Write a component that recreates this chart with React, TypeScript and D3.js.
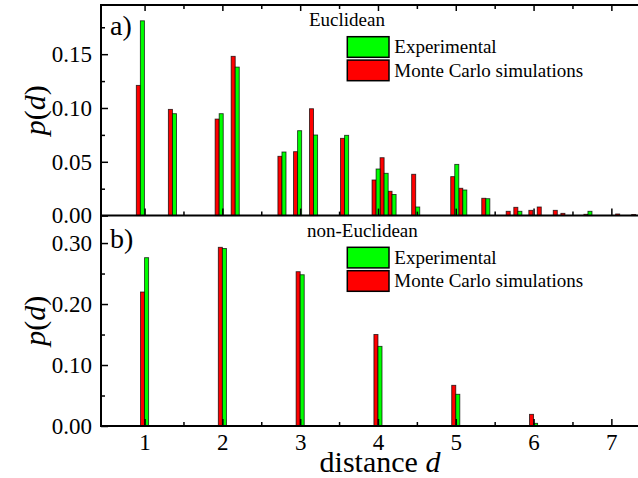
import * as d3 from 'd3'
import { useRef, useEffect } from 'react'

// a) Euclidean distances
const euclidDist = [0.946, 1.358, 1.959, 2.165, 2.766, 2.967, 3.172, 3.571, 3.976, 4.079, 4.181, 4.485,
    4.987, 5.09, 5.386, 5.7, 5.798, 5.991, 6.099, 6.305, 6.403, 6.699, 7.107, 7.313]
const euclidMC = [0.121, 0.0987, 0.0897, 0.148, 0.0551, 0.0594, 0.0993, 0.0718, 0.0331, 0.0538, 0.0226, 0.0384,
    0.0362, 0.0254, 0.0161, 0.004, 0.0077, 0.0049, 0.008, 0.0049, 0.0021, 0.0012, 0.0015, 0.001]
const euclidExp = [0.181, 0.0947, 0.0947, 0.138, 0.0591, 0.0789, 0.0749, 0.0746, 0.0433, 0.0393, 0.0196, 0.008,
    0.0476, 0.0238, 0.0157, 0, 0.004, 0, 0, 0, 0, 0.004, 0, 0]

// b) non-Euclidean
const nonEuclidDist = [1, 2, 3, 4, 5, 6]
const nonEuclidMC = [0.2197, 0.293, 0.253, 0.15, 0.0667, 0.0191]
const nonEuclidExp = [0.276, 0.291, 0.248, 0.1306, 0.052, 0.0044]

const xTicks = [1, 2, 3, 4, 5, 6, 7]
const xMinorTicks = [1.5, 2.5, 3.5, 4.5, 5.5, 6.5]
const topYTicks = [0, 0.05, 0.1, 0.15]
const topYMinor = [0.025, 0.075, 0.125, 0.175]
const botYTicks = [0, 0.1, 0.2, 0.3]
const botYMinor = [0.05, 0.15, 0.25]
const legendLabels = ['Experimental', 'Monte Carlo simulations']

const GREEN = '#00ff00'
const RED = '#ff0000'
const FONT = "'Liberation Serif', 'Times New Roman', serif"

export default function App() {
    const svgRef = useRef(null)

    useEffect(() => {
        const svg = d3.select(svgRef.current)
        svg.selectAll('*').remove()

        const left = 101, top = 5, mid = 215.6, bottom = 426

        const x = d3.scaleLinear().domain([0.44, 7.4]).range([left, left + 6.96 * 77.8])
        const yTop = d3.scaleLinear().domain([0, 0.1957]).range([mid, top])
        const yBot = d3.scaleLinear().domain([0, 0.345]).range([bottom, mid])
        const barW = x(0.052) - x(0)

        const panels = [
            { dist: euclidDist, mc: euclidMC, exp: euclidExp, y: yTop, base: mid, ticks: topYTicks, minor: topYMinor,
              tag: 'a)', tagY: 35, title: 'Euclidean', titleX: 309, titleY: 26, legY: 36.7 },
            { dist: nonEuclidDist, mc: nonEuclidMC, exp: nonEuclidExp, y: yBot, base: bottom, ticks: botYTicks, minor: botYMinor,
              tag: 'b)', tagY: 248, title: 'non-Euclidean', titleX: 307, titleY: 236.7, legY: 247.3 }
        ]

        panels.forEach(p => {
            const g = svg.append('g')
            const pairs = p.dist.map((d, i) => ({ d, mc: p.mc[i], exp: p.exp[i] }))

            g.selectAll('.mc')
                .data(pairs.filter(e => e.mc > 0))
                .join('rect')
                .attr('x', e => x(e.d) - barW)
                .attr('y', e => p.y(e.mc))
                .attr('width', barW)
                .attr('height', e => p.y(0) - p.y(e.mc))
                .attr('fill', RED)
                .attr('stroke', '#000')
                .attr('stroke-opacity', 0.75)
                .attr('stroke-width', 0.9)

            g.selectAll('.exp')
                .data(pairs.filter(e => e.exp > 0))
                .join('rect')
                .attr('x', e => x(e.d))
                .attr('y', e => p.y(e.exp))
                .attr('width', barW)
                .attr('height', e => p.y(0) - p.y(e.exp))
                .attr('fill', GREEN)
                .attr('stroke', '#000')
                .attr('stroke-opacity', 0.75)
                .attr('stroke-width', 0.9)

            // y axis, ticks pointing inward
            const ya = g.append('g').attr('transform', `translate(${left},0)`)
                .call(d3.axisLeft(p.y).tickValues(p.ticks).tickSize(-7).tickSizeOuter(0).tickPadding(9)
                    .tickFormat(d3.format('.2f')))
            ya.select('.domain').remove()
            ya.selectAll('line').attr('stroke-width', 1.5)
            ya.selectAll('text').attr('font-family', FONT).attr('font-size', 23).attr('fill', '#000')

            const ym = g.append('g').attr('transform', `translate(${left},0)`)
                .call(d3.axisLeft(p.y).tickValues(p.minor).tickSize(-4).tickFormat(() => ''))
            ym.select('.domain').remove()
            ym.selectAll('line').attr('stroke-width', 1.5)

            // x ticks on the panel's base line, pointing up
            const xa = g.append('g').attr('transform', `translate(0,${p.base})`)
                .call(d3.axisBottom(x).tickValues(xTicks).tickSize(-7).tickPadding(7.5).tickFormat(d3.format('d')))
            xa.select('.domain').remove()
            xa.selectAll('line').attr('stroke-width', 1.5)
            if (p.base === bottom) {
                xa.selectAll('text').attr('font-family', FONT).attr('font-size', 23).attr('fill', '#000')
            } else {
                xa.selectAll('text').remove()
            }
            const xm = g.append('g').attr('transform', `translate(0,${p.base})`)
                .call(d3.axisBottom(x).tickValues(xMinorTicks).tickSize(-4).tickFormat(() => ''))
            xm.select('.domain').remove()
            xm.selectAll('line').attr('stroke-width', 1.5)

            // panel tag and title
            g.append('text').attr('x', 110).attr('y', p.tagY)
                .attr('font-family', FONT).attr('font-size', 28).text(p.tag)
            g.append('text').attr('x', p.titleX).attr('y', p.titleY)
                .attr('font-family', FONT).attr('font-size', 19).text(p.title)

            // legend
            const leg = g.append('g')
            legendLabels.forEach((lbl, i) => {
                const yy = p.legY + i * 23.4
                leg.append('rect').attr('x', 347.3).attr('y', yy).attr('width', 41.7).attr('height', 20.6)
                    .attr('fill', i === 0 ? GREEN : RED).attr('stroke', '#000').attr('stroke-width', 1.5)
                leg.append('text').attr('x', 394.3).attr('y', yy + 16.6)
                    .attr('font-family', FONT).attr('font-size', 19).text(lbl)
            })

            // y label p(d)
            const yl = g.append('text')
                .attr('transform', `translate(45,${(p.y.range()[0] + p.y.range()[1]) / 2}) rotate(-90)`)
                .attr('text-anchor', 'middle')
                .attr('font-family', FONT).attr('font-size', 30)
            yl.append('tspan').attr('font-style', 'italic').text('p')
            yl.append('tspan').text('(')
            yl.append('tspan').attr('font-style', 'italic').text('d')
            yl.append('tspan').text(')')
        })

        // ticks hanging from the top border
        const xt = svg.append('g').attr('transform', `translate(0,${top})`)
            .call(d3.axisTop(x).tickValues(xTicks).tickSize(-6).tickFormat(() => ''))
        xt.select('.domain').remove()
        xt.selectAll('line').attr('stroke-width', 1.5)
        const xtm = svg.append('g').attr('transform', `translate(0,${top})`)
            .call(d3.axisTop(x).tickValues(xMinorTicks).tickSize(-4).tickFormat(() => ''))
        xtm.select('.domain').remove()
        xtm.selectAll('line').attr('stroke-width', 1.5)

        // frame lines
        const frame = svg.append('g').attr('stroke', '#000').attr('stroke-width', 2)
        frame.append('line').attr('x1', left).attr('x2', left).attr('y1', top - 1).attr('y2', bottom + 1)
        frame.append('line').attr('x1', left).attr('x2', 640).attr('y1', top).attr('y2', top)
        frame.append('line').attr('x1', left).attr('x2', 640).attr('y1', mid).attr('y2', mid)
        frame.append('line').attr('x1', left).attr('x2', 640).attr('y1', bottom).attr('y2', bottom)

        // x label
        const xl = svg.append('text').attr('x', 380).attr('y', 472)
            .attr('text-anchor', 'middle').attr('font-family', FONT).attr('font-size', 30)
        xl.append('tspan').text('distance ')
        xl.append('tspan').attr('font-style', 'italic').text('d')
    }, [])

    return (
        <svg ref={svgRef} width={638} height={478}
            style={{ display: 'block', position: 'absolute', left: 0, top: 0, background: '#fff' }}></svg>
    )
}
